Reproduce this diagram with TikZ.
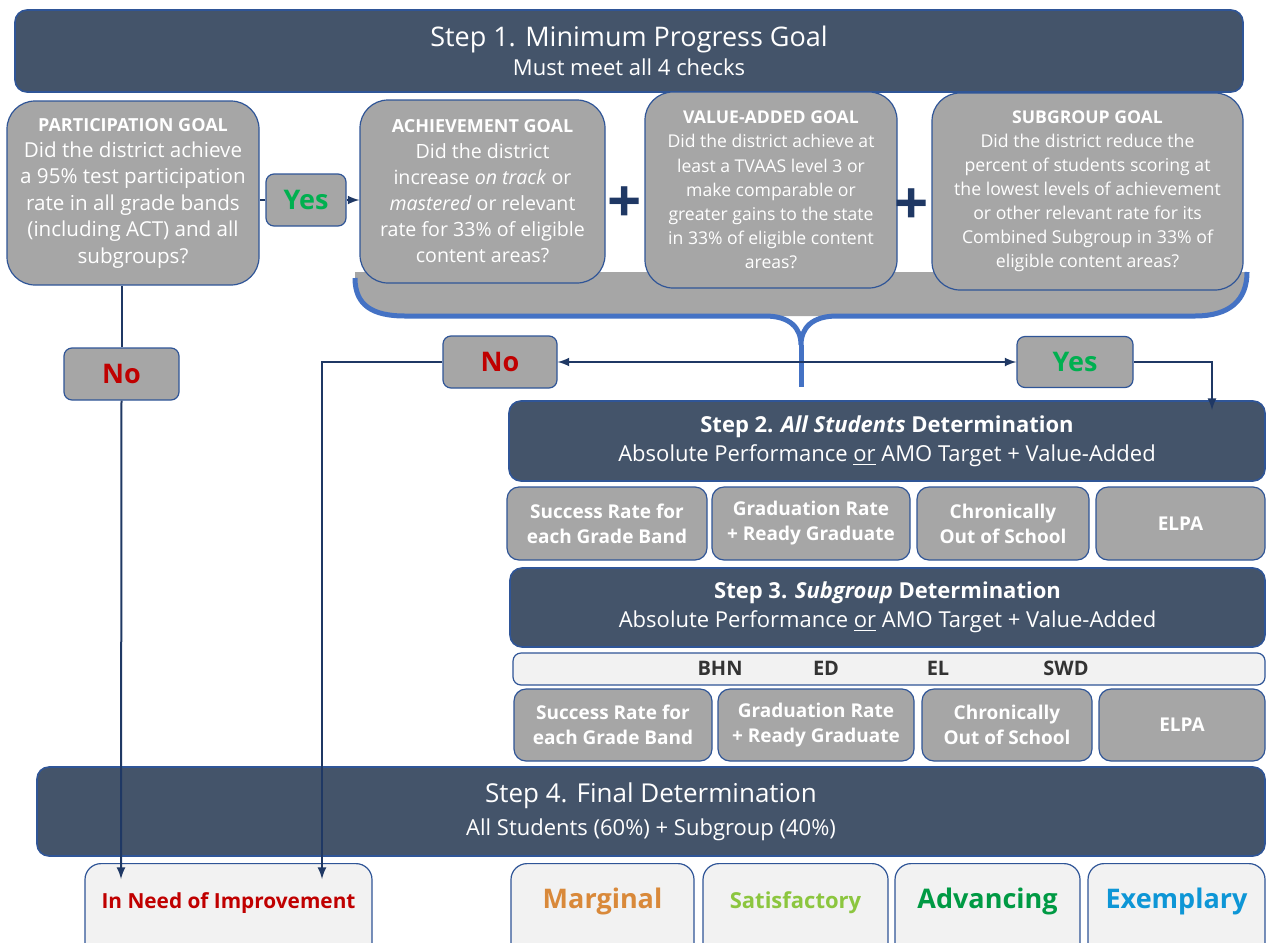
\documentclass[tikz,border=0pt]{standalone}
\usepackage{fontspec}
\setmainfont{Open Sans}
\usepackage{tikz}
\usetikzlibrary{arrows,shapes.misc}
\definecolor{slate}{HTML}{44546A}
\definecolor{edge}{HTML}{2F5597}
\definecolor{boxgray}{HTML}{A6A6A6}
\definecolor{pale}{HTML}{F2F2F2}
\definecolor{navy}{HTML}{1F3864}
\definecolor{bracecol}{HTML}{4472C4}
\definecolor{yesgreen}{HTML}{00B050}
\definecolor{nored}{HTML}{C00000}
\definecolor{margcol}{HTML}{D9893A}
\definecolor{satcol}{HTML}{8CC63F}
\definecolor{advcol}{HTML}{009A44}
\definecolor{exemcol}{HTML}{0E96D6}
\tikzset{
	header/.style={
		% The shape:
		rectangle,rounded corners=6pt,
		% The border:
		draw=edge,thick,
		% The filling:
		fill=slate,text=white,align=center,
	}}
\tikzset{
	goal/.style={
		% The shape:
		rectangle,rounded corners=14pt,
		% The border:
		draw=edge,semithick,
		% The filling:
		fill=boxgray,text=white,align=center,inner sep=2pt,
	}}
\tikzset{
	answer/.style={
		rectangle,rounded corners=4pt,
		draw=edge,semithick,
		fill=boxgray,font=\fontsize{13.5}{15}\selectfont\bfseries,
	}}
\tikzset{
	measure/.style={
		rectangle,rounded corners=6pt,
		draw=edge,semithick,
		fill=boxgray,text=white,align=center,
		font=\fontsize{9.5}{12.5}\selectfont\bfseries,
	}}
\tikzset{
	outcome/.style={
		rectangle,rounded corners=8pt,
		draw=edge,semithick,fill=pale,
		minimum height=50pt,text height=8pt,text depth=13pt,anchor=north,
	}}
\tikzset{
	link/.style={draw=navy,line width=1pt,->,>=latex},
	wire/.style={draw=navy,line width=1pt},
}

\begin{document}
\begin{tikzpicture}[x=0.5pt,y=-0.5pt]
\useasboundingbox (0,0) rectangle (1267,942);
\clip (0,0) rectangle (1267,942);
% Step 1 and the four checks
\node[header,minimum width=614pt,minimum height=41pt] (step1) at (629,51)
	{{\fontsize{13.5}{16}\selectfont Step 1. Minimum Progress Goal}\\[2.5pt]
	 {\fontsize{11}{14}\selectfont Must meet all 4 checks}};
\fill[boxgray] (355,272) -- (355,278) .. controls (355,305) and (372,316) .. (405,316)
	-- (1195,316) .. controls (1230,316) and (1247,300) .. (1247,272) -- cycle;
\draw[bracecol,line width=2.5pt] (355,278) .. controls (355,305) and (372,316) .. (405,316)
	-- (765,316) .. controls (790,316) and (801,328) .. (801,345)
	.. controls (801,328) and (812,316) .. (837,316)
	-- (1195,316) .. controls (1230,316) and (1247,300) .. (1247,272);
\draw[bracecol,line width=2.5pt] (801,345) -- (801,387);
\node[goal,minimum width=126pt,minimum height=92pt,font=\fontsize{10.3}{13.2}\selectfont] (p-goal) at (133,193)
	{{\fontsize{9}{11}\selectfont\bfseries PARTICIPATION GOAL}\\Did the district achieve\\a 95\% test participation\\rate in all grade bands\\(including ACT) and all\\subgroups?};
\node[goal,minimum width=122.5pt,minimum height=91.5pt,font=\fontsize{9.8}{13}\selectfont] (a-goal) at (482.5,191.5)
	{{\fontsize{9}{11}\selectfont\bfseries ACHIEVEMENT GOAL}\\Did the district\\increase \textit{on track} or\\\textit{mastered} or relevant\\rate for 33\% of eligible\\content areas?};
\node[goal,minimum width=126pt,minimum height=98pt,font=\fontsize{8.8}{12.1}\selectfont] (v-goal) at (771,190)
	{{\fontsize{8.8}{11}\selectfont\bfseries VALUE-ADDED GOAL}\\Did the district achieve at\\least a TVAAS level 3 or\\make comparable or\\greater gains to the state\\in 33\% of eligible content\\areas?};
\node[goal,minimum width=155.5pt,minimum height=98.5pt,font=\fontsize{8.85}{12}\selectfont] (s-goal) at (1087.5,191.5)
	{{\fontsize{8.8}{11}\selectfont\bfseries SUBGROUP GOAL}\\Did the district reduce the\\percent of students scoring at\\the lowest levels of achievement\\or other relevant rate for its\\Combined Subgroup in 33\% of\\eligible content areas?};
\node[text=navy,font=\fontsize{30}{30}\selectfont\bfseries] (plus-a) at (625,205) {+};
\node[text=navy,font=\fontsize{30}{30}\selectfont\bfseries] (plus-b) at (912,207) {+};
% answers
\node[answer,text=yesgreen,minimum width=40pt,minimum height=26pt] (yes-p) at (306,200) {Yes};
\node[answer,text=nored,minimum width=57.5pt,minimum height=26pt] (no-p) at (121.5,374) {No};
\node[answer,text=nored,minimum width=57pt,minimum height=26pt] (no-b) at (500,362) {No};
\node[answer,text=yesgreen,minimum width=58pt,minimum height=25.5pt] (yes-b) at (1075,362) {Yes};
% Step 2
\node[header,minimum width=378pt,minimum height=40pt] (step2) at (887,441)
	{{\fontsize{11}{14}\selectfont\bfseries Step 2. \textit{All Students} Determination}\\[2.5pt]
	 {\fontsize{11}{14}\selectfont Absolute Performance \underline{or} AMO Target + Value-Added}};
\node[measure,minimum width=100pt,minimum height=36.5pt] (s2-a) at (607,523.5) {Success Rate for\\each Grade Band};
\node[measure,minimum width=99pt,minimum height=36.5pt] (s2-b) at (811,523.5) {Graduation Rate\\+ Ready Graduate};
\node[measure,minimum width=86pt,minimum height=36.5pt] (s2-c) at (1003,523.5) {Chronically\\Out of School};
\node[measure,minimum width=84.5pt,minimum height=36.5pt] (s2-d) at (1180.5,523.5) {ELPA};
% Step 3
\node[header,minimum width=377.5pt,minimum height=39.5pt] (step3) at (887.5,607.5)
	{{\fontsize{11}{14}\selectfont\bfseries Step 3. \textit{Subgroup} Determination}\\[2.5pt]
	 {\fontsize{11}{14}\selectfont Absolute Performance \underline{or} AMO Target + Value-Added}};
\node[rectangle,rounded corners=4pt,draw=edge,semithick,fill=pale,minimum width=376pt,minimum height=16pt] (groups) at (889,669) {};
\foreach \g/\gx in {BHN/720,ED/826,EL/938,SWD/1066}
	\node[font=\fontsize{10}{12}\selectfont\bfseries,text=black!80] (g-\g) at (\gx,668) {\g};
\node[measure,minimum width=99pt,minimum height=36pt] (s3-a) at (613,725) {Success Rate for\\each Grade Band};
\node[measure,minimum width=98pt,minimum height=36pt] (s3-b) at (816,725) {Graduation Rate\\+ Ready Graduate};
\node[measure,minimum width=85pt,minimum height=36pt] (s3-c) at (1007,725) {Chronically\\Out of School};
\node[measure,minimum width=83pt,minimum height=36pt] (s3-d) at (1182,725) {ELPA};
% Step 4 and ratings
\node[header,minimum width=614pt,minimum height=44.5pt] (step4) at (651,811.5)
	{{\fontsize{13}{16}\selectfont Step 4. Final Determination}\\[4.5pt]
	 {\fontsize{11}{13}\selectfont All Students (60\%) + Subgroup (40\%)}};
\node[outcome,minimum width=143.5pt,text=nored,font=\fontsize{10.4}{12}\selectfont\bfseries] (need) at (228.5,863) {In Need of Improvement};
\node[outcome,minimum width=91.5pt,text=margcol,font=\fontsize{13.5}{15}\selectfont\bfseries] (marg) at (602.5,863) {Marginal};
\node[outcome,minimum width=92.5pt,text=satcol,font=\fontsize{11}{12}\selectfont\bfseries] (sat) at (795.5,863) {Satisfactory};
\node[outcome,minimum width=92.5pt,text=advcol,font=\fontsize{13.5}{15}\selectfont\bfseries] (adv) at (987.5,863) {Advancing};
\node[outcome,minimum width=88.5pt,text=exemcol,font=\fontsize{13.5}{15}\selectfont\bfseries] (exem) at (1176.5,863) {Exemplary};
% connectors
\coordinate (into2) at (1212,410);
\coordinate (need-a) at (121,879);
\coordinate (need-b) at (322,879);
\draw[wire] (yes-p.west) -- (yes-p.west -| p-goal.east);
\draw[link] (yes-p.east) -- (yes-p.east -| a-goal.west);
\draw[wire] (no-p.north) -- (no-p.north |- p-goal.south);
\draw[link] (no-p.south) -- (need-a);
\draw[link,<->] (no-b.east) -- (yes-b.west);
\draw[link] (yes-b.east) -| (into2);
\draw[link] (no-b.west) -| (need-b);
\end{tikzpicture}
\end{document}
